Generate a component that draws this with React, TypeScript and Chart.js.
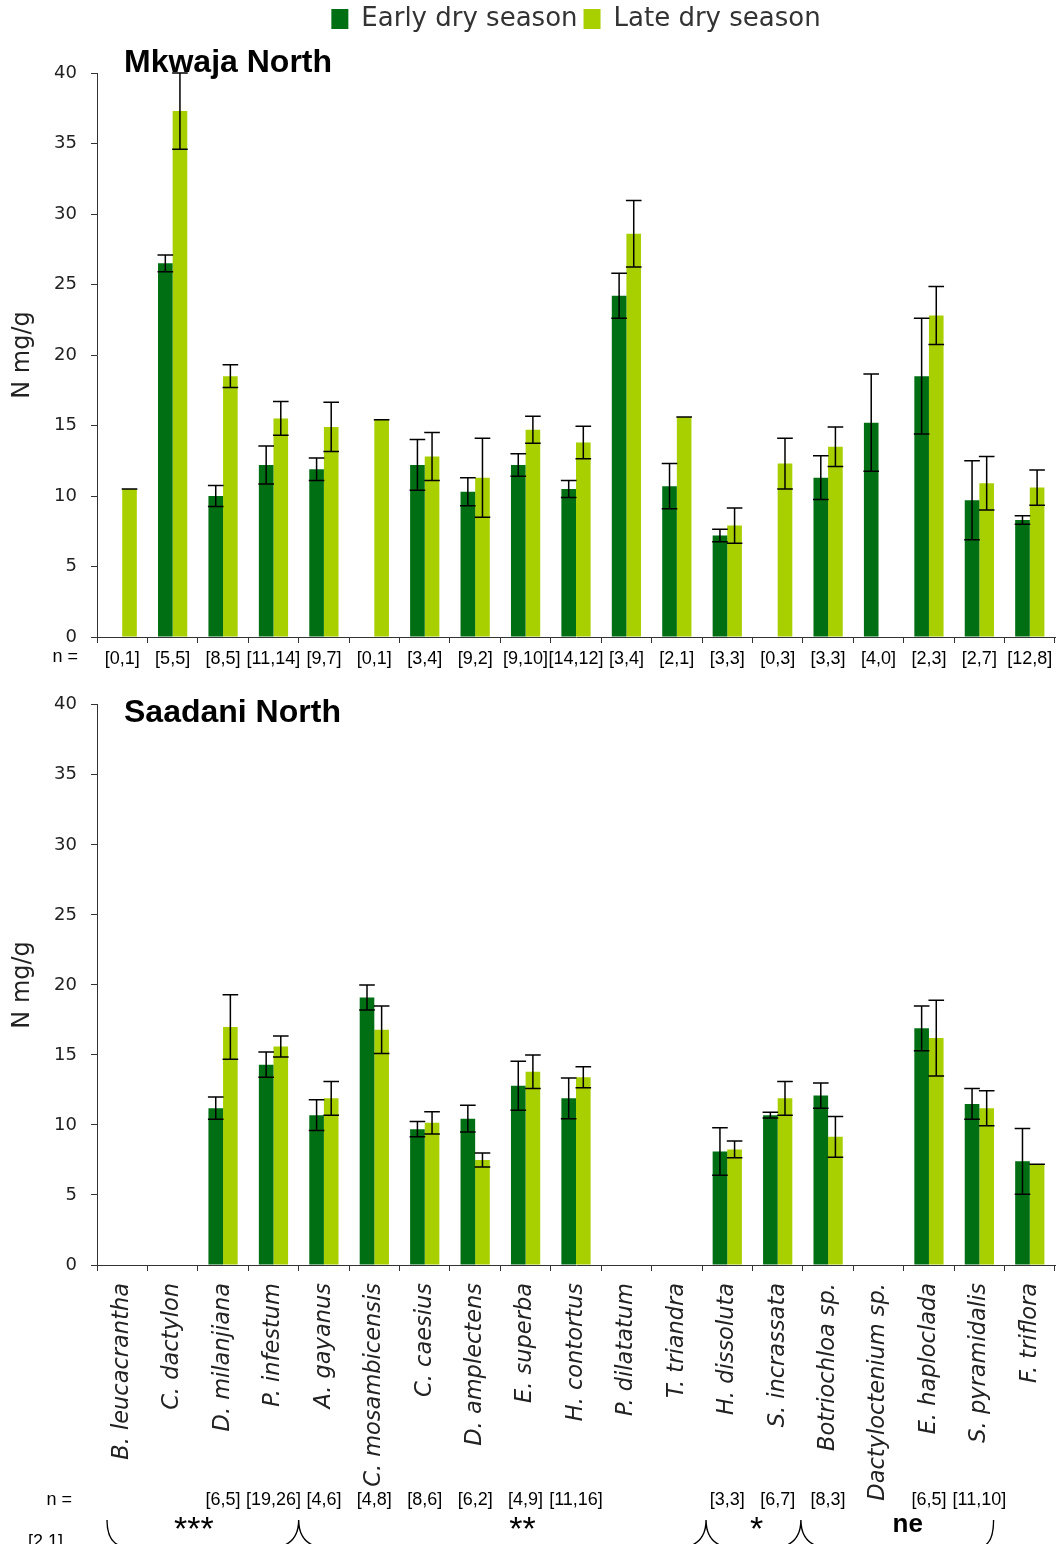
import React, { useEffect, useRef } from 'react';
import { Chart, registerables } from 'chart.js';

Chart.register(...registerables);

// ---------- data ----------
const species = [
  'B. leucacrantha', 'C. dactylon', 'D. milanjiana', 'P. infestum', 'A. gayanus',
  'C. mosambicensis', 'C. caesius', 'D. amplectens', 'E. superba', 'H. contortus',
  'P. dilatatum', 'T. triandra', 'H. dissoluta', 'S. incrassata', 'Botriochloa sp.',
  'Dactyloctenium sp.', 'E. haploclada', 'S. pyramidalis', 'F. triflora',
];

const mkwajaEarly = [null, 26.5, 10.0, 12.2, 11.9, null, 12.2, 10.3, 12.2, 10.5, 24.2, 10.7, 7.2, null, 11.3, 15.2, 18.5, 9.7, 8.3];
const mkwajaEarlyErr = [0, 0.6, 0.75, 1.35, 0.8, 0, 1.8, 1.0, 0.8, 0.6, 1.6, 1.6, 0.45, 0, 1.55, 3.45, 4.1, 2.8, 0.3];
const mkwajaLate = [10.5, 37.3, 18.5, 15.5, 14.9, 15.4, 12.8, 11.3, 14.7, 13.8, 28.6, 15.6, 7.9, 12.3, 13.5, null, 22.8, 10.9, 10.6];
const mkwajaLateErr = [0, 2.7, 0.8, 1.2, 1.75, 0, 1.7, 2.8, 0.95, 1.15, 2.35, 0, 1.25, 1.8, 1.4, 0, 2.05, 1.9, 1.25];

const saadaniEarly = [null, null, 11.2, 14.3, 10.7, 19.1, 9.7, 10.45, 12.8, 11.9, null, null, 8.1, 10.7, 12.1, null, 16.9, 11.5, 7.4];
const saadaniEarlyErr = [0, 0, 0.8, 0.9, 1.1, 0.9, 0.55, 0.95, 1.75, 1.45, 0, 0, 1.7, 0.2, 0.9, 0, 1.6, 1.1, 2.35];
const saadaniLate = [null, null, 17.0, 15.6, 11.9, 16.8, 10.15, 7.5, 13.8, 13.4, null, null, 8.25, 11.9, 9.15, null, 16.2, 11.2, 7.2];
const saadaniLateErr = [0, 0, 2.3, 0.75, 1.2, 1.7, 0.8, 0.5, 1.2, 0.75, 0, 0, 0.6, 1.2, 1.45, 0, 2.7, 1.25, 0];

const nTop = ['[0,1]', '[5,5]', '[8,5]', '[11,14]', '[9,7]', '[0,1]', '[3,4]', '[9,2]', '[9,10]', '[14,12]', '[3,4]', '[2,1]', '[3,3]', '[0,3]', '[3,3]', '[4,0]', '[2,3]', '[2,7]', '[12,8]'];
const nBottom = ['', '', '[6,5]', '[19,26]', '[4,6]', '[4,8]', '[8,6]', '[6,2]', '[4,9]', '[11,16]', '', '', '[3,3]', '[6,7]', '[8,3]', '', '[6,5]', '[11,10]', ''];
const nBottomStray = '[2,1]';

const yTicks = [0, 5, 10, 15, 20, 25, 30, 35, 40];

const sigGroups = [
  { from: 0, to: 3, label: '***' },
  { from: 4, to: 11, label: '**' },
  { from: 12, to: 13, label: '*' },
  { from: 14, to: 17, label: 'ne' },
];

// ---------- styles ----------
const DARK = '#006F14';
const LIGHT = '#A8CF00';
const W = 1056;
const TOP_H = 680;
const BOT_H = 864;
const sigLabelPos = [1.42, 7.94, 12.58, 15.58]; // in category units
const ARIAL = 'Liberation Sans';
const VERDANA = 'DejaVu Sans';

const errorBarPlugin = {
  id: 'errorBars',
  afterDatasetsDraw(chart: any) {
    const ctx = chart.ctx;
    const y = chart.scales.y;
    ctx.save();
    ctx.strokeStyle = '#000';
    ctx.lineWidth = 1.5;
    chart.data.datasets.forEach((ds: any, di: number) => {
      const meta = chart.getDatasetMeta(di);
      const errs = ds.errors || [];
      meta.data.forEach((bar: any, i: number) => {
        const v = ds.data[i];
        if (v === null || v === undefined) return;
        const e = errs[i] || 0;
        const x = bar.x;
        const hw = bar.width / 2 + 0.5;
        const yHi = y.getPixelForValue(v + e);
        const yLo = y.getPixelForValue(v - e);
        ctx.beginPath();
        ctx.moveTo(x, yHi);
        ctx.lineTo(x, yLo);
        ctx.moveTo(x - hw, yHi);
        ctx.lineTo(x + hw, yHi);
        ctx.moveTo(x - hw, yLo);
        ctx.lineTo(x + hw, yLo);
        ctx.stroke();
      });
    });
    ctx.restore();
  },
};

const annotPlugin = {
  id: 'annot',
  afterDraw(chart: any, _args: any, opts: any) {
    const ctx = chart.ctx;
    const area = chart.chartArea;
    const xs = chart.scales.x;
    ctx.save();
    // panel title
    if (opts.title) {
      ctx.font = `bold 32px "${ARIAL}"`;
      ctx.fillStyle = '#000';
      ctx.textAlign = 'left';
      ctx.textBaseline = 'alphabetic';
      ctx.fillText(opts.title, area.left + 27, area.top + opts.titleDy);
    }
    // "n =" prefix
    if (opts.nPrefix) {
      ctx.font = `18px "${ARIAL}"`;
      ctx.fillStyle = '#000';
      ctx.textAlign = 'right';
      ctx.textBaseline = 'alphabetic';
      ctx.fillText('n =', opts.nPrefix.x, opts.nPrefix.y);
    }
    // n row for bottom panel
    if (opts.nRow) {
      ctx.font = `18px "${ARIAL}"`;
      ctx.fillStyle = '#000';
      ctx.textAlign = 'center';
      ctx.textBaseline = 'alphabetic';
      opts.nRow.labels.forEach((t: string, i: number) => {
        if (t) ctx.fillText(t, xs.getPixelForTick(i), opts.nRow.y);
      });
      ctx.textAlign = 'left';
      ctx.fillText(opts.nRow.stray, 28, opts.nRow.strayY);
    }
    // significance braces
    if (opts.sig) {
      const t0 = xs.getPixelForTick(0);
      const step = xs.getPixelForTick(1) - t0;
      const bound = (i: number) => t0 + (i + 0.5) * step; // boundary after category i
      const yTop = opts.sig.y;
      const yBot = yTop + 26;
      ctx.strokeStyle = '#000';
      ctx.lineWidth = 1.4;
      const groups = opts.sig.groups;
      // left end
      const lx = t0 - step / 2 + 10;
      ctx.beginPath();
      ctx.moveTo(lx, yTop);
      ctx.quadraticCurveTo(lx, yBot - 4, lx + 14, yBot);
      // cusps between groups
      for (let g = 0; g < groups.length - 1; g++) {
        const bx = bound(groups[g].to) + (g === 1 ? 4 : 0) - (g === 2 ? 2 : 0);
        ctx.moveTo(bx - 16, yBot);
        ctx.quadraticCurveTo(bx, yBot - 6, bx, yTop);
        ctx.quadraticCurveTo(bx, yBot - 6, bx + 16, yBot);
      }
      // right end
      const rx = bound(groups[groups.length - 1].to) - 11;
      ctx.moveTo(rx, yTop);
      ctx.quadraticCurveTo(rx, yBot - 4, rx - 10, yBot);
      ctx.stroke();
      // labels
      ctx.fillStyle = '#000';
      ctx.textAlign = 'center';
      ctx.textBaseline = 'alphabetic';
      groups.forEach((g: any, i: number) => {
        const x = t0 + sigLabelPos[i] * step;
        if (g.label === 'ne') {
          ctx.font = `bold 26px "${ARIAL}"`;
          ctx.fillText(g.label, x, opts.sig.neY);
        } else {
          ctx.font = `34px "${ARIAL}"`;
          ctx.fillText(g.label, x, opts.sig.starY);
        }
      });
    }
    ctx.restore();
  },
};

function yScale() {
  return {
    type: 'linear',
    min: 0,
    max: 40,
    afterBuildTicks: (s: any) => {
      s.ticks = yTicks.map((v) => ({ value: v }));
    },
    ticks: {
      padding: 14,
      color: '#222',
      font: { family: VERDANA, size: 18 },
    },
    grid: { display: true, drawOnChartArea: false, drawTicks: true, tickLength: 6, color: '#333' },
    border: { display: true, color: '#333', width: 1 },
    title: {
      display: true,
      text: 'N mg/g',
      color: '#222',
      font: { family: VERDANA, size: 24 },
      padding: { top: 8, bottom: 0 },
    },
    afterFit: (s: any) => {
      s.width = 97;
    },
  };
}

function datasets(early: any[], earlyErr: number[], late: any[], lateErr: number[]) {
  return [
    {
      label: 'Early dry season',
      data: early,
      errors: earlyErr,
      backgroundColor: DARK,
      borderWidth: 0,
      categoryPercentage: 0.58,
      barPercentage: 1,
      xAxisID: 'x',
      yAxisID: 'y',
    },
    {
      label: 'Late dry season',
      data: late,
      errors: lateErr,
      backgroundColor: LIGHT,
      borderWidth: 0,
      categoryPercentage: 0.58,
      barPercentage: 1,
      xAxisID: 'x',
      yAxisID: 'y',
    },
  ];
}

function xScale(height: number, ticks: any) {
  return {
    type: 'category',
    position: 'bottom',
    offset: true,
    grid: { display: true, offset: true, drawOnChartArea: false, drawTicks: true, tickLength: 6, color: '#333' },
    border: { display: true, color: '#333', width: 1 },
    ticks,
    afterFit: (s: any) => {
      s.height = height;
      s.paddingLeft = 0;
      s.paddingRight = 0;
    },
  };
}

function topConfig(): any {
  return {
    type: 'bar',
    data: { labels: species, datasets: datasets(mkwajaEarly, mkwajaEarlyErr, mkwajaLate, mkwajaLateErr) },
    plugins: [errorBarPlugin, annotPlugin],
    options: {
      responsive: false,
      animation: false,
      layout: { padding: { left: 0, right: 1, top: 0, bottom: 0 } },
      plugins: {
        legend: {
          display: true,
          position: 'top',
          fullSize: false,
          labels: {
            boxWidth: 17,
            boxHeight: 20,
            padding: 6,
            color: '#333',
            font: { family: VERDANA, size: 26 },
          },
        },
        tooltip: { enabled: false },
        annot: { title: 'Mkwaja North', titleDy: -1, nPrefix: { x: 78, y: 662 } },
      },
      scales: {
        x: xScale(43, {
          autoSkip: false,
          maxRotation: 0,
          minRotation: 0,
          padding: 5,
          color: '#000',
          font: { family: ARIAL, size: 18 },
          callback: (_v: any, i: number) => nTop[i],
        }),
        spacer: {
          type: 'category',
          position: 'top',
          display: true,
          grid: { display: false },
          border: { display: false },
          ticks: { display: false },
          afterFit: (s: any) => {
            s.height = 31;
          },
        },
        y: yScale(),
      },
    },
  };
}

function bottomConfig(): any {
  return {
    type: 'bar',
    data: { labels: species, datasets: datasets(saadaniEarly, saadaniEarlyErr, saadaniLate, saadaniLateErr) },
    plugins: [errorBarPlugin, annotPlugin],
    options: {
      responsive: false,
      animation: false,
      layout: { padding: { left: 0, right: 1, top: 21, bottom: 0 } },
      plugins: {
        legend: { display: false },
        tooltip: { enabled: false },
        annot: {
          title: 'Saadani North',
          titleDy: 17,
          nPrefix: { x: 72, y: 825 },
          nRow: { labels: nBottom, y: 825, stray: nBottomStray, strayY: 867 },
          sig: { groups: sigGroups, y: 840, starY: 860, neY: 852 },
        },
      },
      scales: {
        x: xScale(279, {
          autoSkip: false,
          maxRotation: 90,
          minRotation: 90,
          padding: 12,
          color: '#222',
          font: { family: VERDANA, size: 22.5, style: 'italic' },
        }),
        y: yScale(),
      },
    },
  };
}

function ChartCanvas({ make, height, top }: { make: () => any; height: number; top: number }) {
  const ref = useRef<HTMLCanvasElement | null>(null);
  useEffect(() => {
    if (!ref.current) return;
    const chart = new Chart(ref.current, make());
    return () => chart.destroy();
  }, [make]);
  return (
    <canvas
      ref={ref}
      width={W}
      height={height}
      style={{ position: 'absolute', left: 0, top, width: W, height, display: 'block' }}
    />
  );
}

export default function App() {
  return (
    <div style={{ position: 'absolute', left: 0, top: 0, width: W, height: TOP_H + BOT_H, background: '#fff', overflow: 'hidden' }}>
      <ChartCanvas make={topConfig} height={TOP_H} top={0} />
      <ChartCanvas make={bottomConfig} height={BOT_H} top={TOP_H} />
    </div>
  );
}
